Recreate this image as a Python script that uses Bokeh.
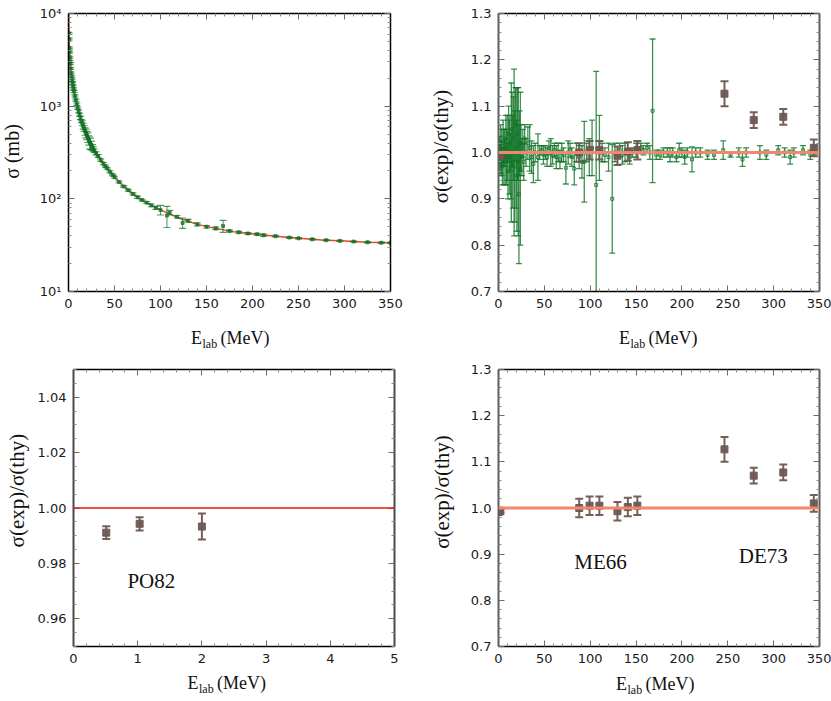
import math
from bokeh.plotting import figure
from bokeh.layouts import column, row
from bokeh.models import (ColumnDataSource, LinearAxis, LogAxis, FixedTicker,
                          NumeralTickFormatter, CustomJSTickFormatter, Span)
from bokeh.core.properties import value
from bokeh.embed import file_html
from bokeh.resources import INLINE

# ---------------- data ----------------
# theory curve (top-left), E in MeV, sigma in mb
thy_E = [0.05, 0.1, 0.2, 0.3, 0.5, 0.75, 1, 1.5, 2, 3, 4, 5, 6, 8, 10, 12, 15, 20, 25, 30,
         40, 50, 60, 70, 80, 90, 100, 120, 140, 160, 180, 200, 225, 250, 275, 300, 325, 350]
thy_sigma = [16000, 12700, 9900, 8400, 6200, 5050, 4250, 3350, 2880, 2270, 1900, 1640, 1440,
             1160, 950, 810, 660, 485, 390, 310, 225, 172, 136, 113, 97, 85, 76, 62, 53, 48,
             44, 42, 39.5, 37.5, 36, 35, 34, 33.5]

# green data (top-left)
tl_E = [0.5, 0.7, 1.0, 1.2, 1.5, 1.8, 2.0, 2.5, 3.0, 3.5, 4.0, 4.5, 5.0, 5.5, 6.0, 7.0, 8.0,
        9.0, 10, 11, 12, 13, 14, 15, 16, 17, 18, 19, 20, 21, 22, 23, 24, 25, 26, 27, 28, 30,
        32, 35, 38, 40, 42, 45, 48, 50, 55, 60, 65, 70, 75, 80, 85, 90, 95, 100, 107, 110,
        118, 124, 130, 140, 150, 160, 168, 175, 185, 195, 205, 212, 225, 240, 250, 265, 280,
        295, 310, 325, 340, 350]
tl_sigma = [6100, 5300, 4250, 3850, 3380, 3050, 2880, 2550, 2280, 2080, 1900, 1760, 1640, 1530,
            1440, 1290, 1160, 1050, 955, 880, 810, 745, 690, 655, 610, 575, 535, 510, 485, 460,
            430, 405, 395, 380, 360, 345, 330, 310, 290, 262, 240, 226, 214, 196, 181, 171, 152,
            136, 124, 113, 104, 97, 91, 85, 80, 76, 66, 71, 64, 55, 58, 53, 50, 48, 51, 45,
            43.5, 42.3, 41.5, 40.5, 39.5, 38.2, 37.5, 36.6, 35.8, 35.2, 34.6, 34.0, 33.6, 33.5]
tl_err = [150, 130, 100, 90, 80, 75, 70, 60, 55, 50, 50, 45, 40, 40, 40, 35, 30, 30, 25, 30,
          30, 30, 25, 40, 45, 40, 50, 55, 50, 55, 50, 60, 55, 40, 25, 20, 15, 12, 10, 8, 7, 6,
          5, 5, 4, 4, 4, 3, 3, 3, 3, 2, 2, 3, 3, 9, 17, 4, 2, 7, 2, 2, 1.5, 1.5, 7.5, 1, 1, 1,
          1, 1.2, 0.8, 0.8, 0.6, 0.6, 0.5, 0.5, 0.5, 0.5, 0.5, 0.5]

# green data (top-right), ratio sigma(exp)/sigma(thy)
tr_E = [0.3, 0.8, 1.3, 1.8, 2.3, 2.8, 3.5, 4.2, 5.0, 5.8, 6.5, 7.3, 8.0, 8.8, 9.5, 10.3, 11.0,
        11.8, 12.5, 13.3, 14.0, 14.8, 15.5, 16.3, 17.0, 17.8, 18.5, 19.3, 20.0, 20.8, 21.5,
        22.3, 23.0, 23.8, 24.5, 25.5, 26.5, 27.5, 28.5, 30.0, 32, 34, 36, 38, 40, 43, 45, 47,
        49, 51, 53, 55, 57, 59, 61, 63, 65, 67, 69, 71, 73.5, 76, 78, 80, 82.6, 85, 88, 91,
        93.5, 96, 99, 102, 106.5, 110, 113, 116, 120, 124, 127, 132, 135, 138, 143, 146, 150,
        155, 158, 162, 165, 168, 172, 176, 180, 184, 187, 190, 194, 197, 200, 203, 206, 211,
        215, 220, 228, 235, 245, 253, 262, 266, 270, 285, 292, 305, 312, 318, 322, 332, 340,
        345]
tr_ratio = [1.00, 0.99, 1.01, 0.98, 1.02, 0.99, 1.00, 0.97, 1.02, 0.99, 1.01, 0.98, 1.03,
            0.99, 1.01, 0.96, 1.04, 0.99, 1.02, 0.97, 1.00, 1.05, 0.98, 1.03, 1.00, 0.97,
            1.06, 1.01, 0.95, 1.04, 0.98, 0.91, 1.02, 0.965, 1.01, 0.99, 1.02, 0.98, 1.03,
            1.00, 1.02, 1.01, 0.99, 0.975, 1.00, 0.99, 1.00, 1.005, 0.995, 1.00, 0.99, 1.01,
            1.00, 0.995, 1.005, 0.99, 1.00, 0.985, 1.00, 0.995, 0.967, 1.00, 1.005, 0.99,
            0.965, 1.00, 0.99, 0.98, 0.98, 1.00, 0.99, 1.01, 0.93, 1.01, 1.00, 0.995, 0.99,
            0.90, 1.00, 1.005, 0.995, 1.00, 0.99, 1.00, 1.005, 1.01, 1.005, 1.01, 1.00, 1.09,
            0.995, 0.995, 1.00, 1.00, 0.995, 1.00, 0.99, 1.005, 1.00, 0.99, 1.00, 0.985, 1.00,
            1.00, 0.995, 0.995, 1.005, 0.995, 1.00, 0.985, 1.00, 1.00, 0.995, 1.005, 1.00,
            0.99, 1.00, 1.005, 0.995, 1.005]
tr_err = [0.02, 0.03, 0.025, 0.03, 0.04, 0.035, 0.05, 0.04, 0.05, 0.06, 0.04, 0.05, 0.05,
          0.06, 0.07, 0.06, 0.06, 0.08, 0.06, 0.07, 0.15, 0.08, 0.10, 0.09, 0.18, 0.12, 0.08,
          0.13, 0.12, 0.10, 0.16, 0.15, 0.07, 0.165, 0.05, 0.04, 0.03, 0.04, 0.03, 0.03,
          0.035, 0.05, 0.035, 0.04, 0.02, 0.05, 0.015, 0.01, 0.02, 0.015, 0.02, 0.015, 0.03,
          0.02, 0.015, 0.025, 0.02, 0.02, 0.02, 0.015, 0.035, 0.025, 0.015, 0.02, 0.035,
          0.02, 0.025, 0.035, 0.087, 0.02, 0.04, 0.06, 0.245, 0.07, 0.02, 0.015, 0.03, 0.117,
          0.02, 0.015, 0.02, 0.02, 0.015, 0.01, 0.015, 0.01, 0.01, 0.01, 0.015, 0.155, 0.01,
          0.01, 0.01, 0.01, 0.015, 0.01, 0.01, 0.015, 0.01, 0.015, 0.01, 0.027, 0.01, 0.01,
          0.01, 0.01, 0.02, 0.005, 0.01, 0.015, 0.01, 0.015, 0.01, 0.01, 0.01, 0.015, 0.01,
          0.01, 0.01, 0.01]

# brown data sets
po82_E = [0.51, 1.03, 2.0]
po82_ratio = [0.9911, 0.9943, 0.9933]
po82_err = [0.0023, 0.0024, 0.0047]
me66_E = [88, 99.3, 110, 129.7, 141, 151.4]
me66_ratio = [1.000, 1.005, 1.005, 0.993, 1.002, 1.005]
me66_err = [0.02, 0.02, 0.02, 0.02, 0.02, 0.02]
de73_E = [246.4, 278.3, 310.5, 343.8]
de73_ratio = [1.127, 1.070, 1.077, 1.010]
de73_err = [0.027, 0.017, 0.017, 0.018]
ratio_ref = 1.0

# annotation texts
set_names = ["PO82", "ME66", "DE73"]
set_name_E = [0.84, 82.6, 262]
set_name_ratio = [0.9738, 0.8836, 0.896]

# ticks
x_ticks_mev = [0, 50, 100, 150, 200, 250, 300, 350]
x_ticks_low = [0, 1, 2, 3, 4, 5]
y_ticks_log = [10, 100, 1000, 10000]
y_tick_log_labels = ["10\u00b9", "10\u00b2", "10\u00b3", "10\u2074"]
y_ticks_ratio = [0.7, 0.8, 0.9, 1.0, 1.1, 1.2, 1.3]
y_ticks_fine = [0.96, 0.98, 1.00, 1.02, 1.04]

# ---------------- styling ----------------
GREEN = "#0f7326"
BROWN = "#6e5752"
TICK_FONT = "DejaVu Sans"
SERIF = "Liberation Serif"


def minor_between(ticks, n, lo, hi):
    step = (ticks[1] - ticks[0]) / n
    out = []
    k = 0
    v = ticks[0] - 10 * step
    while v <= hi + 1e-9:
        if v >= lo - 1e-9 and all(abs(v - t) > 1e-9 for t in ticks):
            out.append(round(v, 6))
        k += 1
        v = ticks[0] + (k - 10) * step
    return out


def style_axis(ax, line_color="black", line_width=1.5, labels=True):
    ax.major_tick_in = 6
    ax.major_tick_out = 0
    ax.minor_tick_in = 3
    ax.minor_tick_out = 0
    ax.major_tick_line_color = "#6a6a6a"
    ax.minor_tick_line_color = "#8a8a8a"
    ax.axis_line_color = line_color
    ax.axis_line_width = line_width
    if labels:
        ax.major_label_text_font = TICK_FONT
        ax.major_label_text_font_size = "13px"
        ax.major_label_text_color = "#1a1a1a"
        ax.major_label_standoff = 7
    else:
        ax.formatter = CustomJSTickFormatter(code="return ''")
        ax.major_label_text_font_size = "0px"
        ax.major_label_standoff = 0


class Panel:
    def __init__(self, w, h, xr, yr, bl, br, bt, bb, xticker, yticker, yformatter,
                 log=False, yline="black"):
        self.xr, self.yr, self.log = xr, yr, log
        self.fw = w - bl - br
        self.fh = h - bt - bb
        p = figure(width=w, height=h, x_range=xr, y_range=yr,
                   y_axis_type="log" if log else "linear",
                   output_backend="svg", toolbar_location=None,
                   min_border_left=bl, min_border_right=br, min_border_top=bt,
                   min_border_bottom=bb)
        p.outline_line_color = None
        p.xgrid.visible = False
        p.ygrid.visible = False
        p.xaxis.ticker = xticker
        p.yaxis.ticker = yticker
        p.xaxis.formatter = NumeralTickFormatter(format="0")
        if yformatter is not None:
            p.yaxis.formatter = yformatter
        yw = 1.5 if yline == "black" else 2
        style_axis(p.xaxis[0])
        style_axis(p.yaxis[0], line_color=yline, line_width=yw)
        top = LinearAxis(ticker=xticker)
        style_axis(top, labels=False)
        p.add_layout(top, "above")
        right = LogAxis(ticker=yticker) if log else LinearAxis(ticker=yticker)
        style_axis(right, line_color=yline, line_width=yw, labels=False)
        p.add_layout(right, "right")
        self.p = p

    # frame-relative pixel offsets (sx right of frame left, sy up from frame bottom) -> data
    def to_data(self, sx, sy):
        x0, x1 = self.xr
        y0, y1 = self.yr
        x = x0 + sx / self.fw * (x1 - x0)
        if self.log:
            y = 10 ** (math.log10(y0) + sy / self.fh * (math.log10(y1) - math.log10(y0)))
        else:
            y = y0 + sy / self.fh * (y1 - y0)
        return x, y

    def text(self, sx, sy, s, size, angle=0.0, align="left", baseline="alphabetic"):
        x, y = self.to_data(sx, sy)
        self.p.text(x=[x], y=[y], text=[s], angle=angle, text_font=value(SERIF),
                    text_font_size=value(size), text_align=align, text_baseline=baseline,
                    text_color="#111111", level="overlay")

    def xlabel(self, x0, yb):
        self.text(x0, yb, "E", "18px")
        self.text(x0 + 11.5, yb - 6, "lab", "12px")
        self.text(x0 + 29.5, yb, "(MeV)", "18px")

    def ylabel(self, s, sx, sy, size="21px"):
        self.text(sx, sy, s, size, angle=math.pi / 2, align="center", baseline="middle")


def errbars(p, x, y, err, color, alpha, lw, cap, msize, mfill=True):
    src = ColumnDataSource(dict(x=x, y=y,
                                lo=[a - b for a, b in zip(y, err)],
                                hi=[a + b for a, b in zip(y, err)]))
    p.segment(x0="x", y0="lo", x1="x", y1="hi", source=src, line_color=color,
              line_alpha=alpha, line_width=lw)
    p.scatter("x", "lo", marker="dash", size=cap, line_color=color, line_alpha=alpha,
              line_width=lw, source=src)
    p.scatter("x", "hi", marker="dash", size=cap, line_color=color, line_alpha=alpha,
              line_width=lw, source=src)
    p.scatter("x", "y", marker="square", size=msize,
              fill_color=color if mfill else None, fill_alpha=alpha,
              line_color=color, line_alpha=alpha, line_width=1, source=src)


def set_label(p, i):
    p.text(x=[set_name_E[i]], y=[set_name_ratio[i]], text=[set_names[i]],
           text_font=value(SERIF), text_font_size=value("21px"), text_align="left",
           text_baseline="alphabetic", text_color="#111111")


# tickers
x_mev_ticker = FixedTicker(ticks=x_ticks_mev,
                           minor_ticks=minor_between(x_ticks_mev, 5, 0, 350))
x_low_ticker = FixedTicker(ticks=x_ticks_low, minor_ticks=minor_between(x_ticks_low, 5, 0, 5))
log_minor = [m * 10 ** d for d in range(1, 4) for m in range(2, 10)]
y_log_ticker = FixedTicker(ticks=y_ticks_log, minor_ticks=log_minor)
y_ratio_ticker = FixedTicker(ticks=y_ticks_ratio,
                             minor_ticks=minor_between(y_ticks_ratio, 5, 0.7, 1.3))
y_fine_ticker = FixedTicker(ticks=y_ticks_fine,
                            minor_ticks=minor_between(y_ticks_fine, 4, 0.95, 1.05))
all_brown_E = po82_E + me66_E + de73_E
all_brown_ratio = po82_ratio + me66_ratio + de73_ratio
all_brown_err = po82_err + me66_err + de73_err

# ---------------- panel 1: sigma vs E (log) ----------------
P1 = Panel(410, 350, (0, 350), (10, 1e4), 68, 20, 13, 59, x_mev_ticker, y_log_ticker,
           None, log=True)
p1 = P1.p
p1.yaxis[0].major_label_overrides = {t: s for t, s in zip(y_ticks_log, y_tick_log_labels)}
p1.line(thy_E, thy_sigma, line_color="#e8442a", line_width=1.5)
errbars(p1, tl_E, tl_sigma, tl_err, GREEN, 0.7, 1.1, 7, 3)
P1.xlabel(122.5, -46)
P1.ylabel("\u03c3 (mb)", -57, 140, size="20px")

# ---------------- panel 2: ratio, full range ----------------
P2 = Panel(421, 350, (0, 350), (0.7, 1.3), 88, 12, 13, 59, x_mev_ticker, y_ratio_ticker,
           NumeralTickFormatter(format="0.0"), yline="#5e5e5e")
p2 = P2.p
p2.add_layout(Span(location=ratio_ref, dimension="width", line_color="#f2876f",
                   line_width=3))
errbars(p2, tr_E, tr_ratio, tr_err, GREEN, 0.8, 1.3, 6, 3, mfill=False)
errbars(p2, all_brown_E, all_brown_ratio, all_brown_err, BROWN, 0.95, 2, 8, 7)
P2.xlabel(120.5, -46)
P2.ylabel("\u03c3(exp)/\u03c3(thy)", -58, 145)

# ---------------- panel 3: ratio, 0-5 MeV ----------------
P3 = Panel(410, 350, (0, 5), (0.95, 1.05), 73, 16, 17, 54, x_low_ticker, y_fine_ticker,
           NumeralTickFormatter(format="0.00"), yline="#4a4a4a")
p3 = P3.p
p3.add_layout(Span(location=ratio_ref, dimension="width", line_color="#e01a00",
                   line_width=1.3))
errbars(p3, po82_E, po82_ratio, po82_err, BROWN, 0.95, 2, 8, 7)
set_label(p3, 0)
P3.xlabel(114, -37)
P3.ylabel("\u03c3(exp)/\u03c3(thy)", -57, 157)

# ---------------- panel 4: ratio, selected sets ----------------
P4 = Panel(421, 350, (0, 350), (0.7, 1.3), 88, 12, 19, 53, x_mev_ticker, y_ratio_ticker,
           NumeralTickFormatter(format="0.0"), yline="#5e5e5e")
p4 = P4.p
p4.add_layout(Span(location=ratio_ref, dimension="width", line_color="#f2876f",
                   line_width=3))
errbars(p4, all_brown_E, all_brown_ratio, all_brown_err, BROWN, 0.95, 2, 8, 7)
set_label(p4, 1)
set_label(p4, 2)
P4.xlabel(117.5, -38)
P4.ylabel("\u03c3(exp)/\u03c3(thy)", -57, 155)

layout = column(row(p1, p2), row(p3, p4))
open("out.html", "w").write(file_html(layout, INLINE))
